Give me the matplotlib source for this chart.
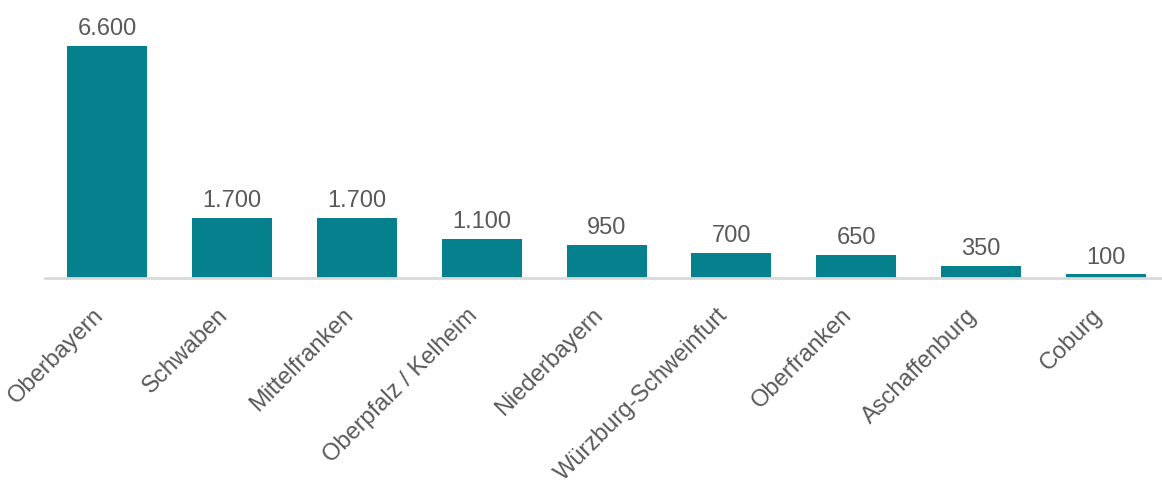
import numpy as np
import matplotlib.pyplot as plt
from matplotlib.transforms import ScaledTranslation

plt.rcParams['font.family'] = ['Liberation Sans', 'DejaVu Sans']

regions = ['Oberbayern', 'Schwaben', 'Mittelfranken', 'Oberpfalz / Kelheim',
           'Niederbayern', 'Würzburg-Schweinfurt', 'Oberfranken',
           'Aschaffenburg', 'Coburg']
values = [6600, 1700, 1700, 1100, 950, 700, 650, 350, 100]
value_labels = ['6.600', '1.700', '1.700', '1.100', '950', '700', '650', '350', '100']

bar_color = '#05818e'
text_color = '#595959'

fig = plt.figure(figsize=(11.62, 4.83), dpi=100)
ax = fig.add_axes([45 / 1162, 205 / 483, 1 - 45 / 1162, 232 / 483])

x = np.arange(len(regions))
ax.bar(x, values, width=0.64, color=bar_color)

for xi, v, lab in zip(x, values, value_labels):
    ax.text(xi, v + 170, lab, ha='center', va='bottom', fontsize=17, color=text_color)

ax.set_xlim(-0.5, 8.45)
ax.set_ylim(0, 6600)
ax.set_xticks(x)
ax.set_xticklabels(regions, rotation=45, ha='right', rotation_mode='anchor',
                   fontsize=17, color=text_color)
ax.tick_params(axis='x', length=0, pad=14)
ax.set_yticks([])

# shift rotated labels a bit to the left, like the original
offset = ScaledTranslation(-15 / 100, -7 / 100, fig.dpi_scale_trans)
for lbl in ax.get_xticklabels():
    lbl.set_transform(lbl.get_transform() + offset)

for s in ['top', 'right', 'left']:
    ax.spines[s].set_visible(False)
ax.spines['bottom'].set_color('#d9d9d9')
ax.spines['bottom'].set_linewidth(2)

fig.savefig('out.png', dpi=100)
